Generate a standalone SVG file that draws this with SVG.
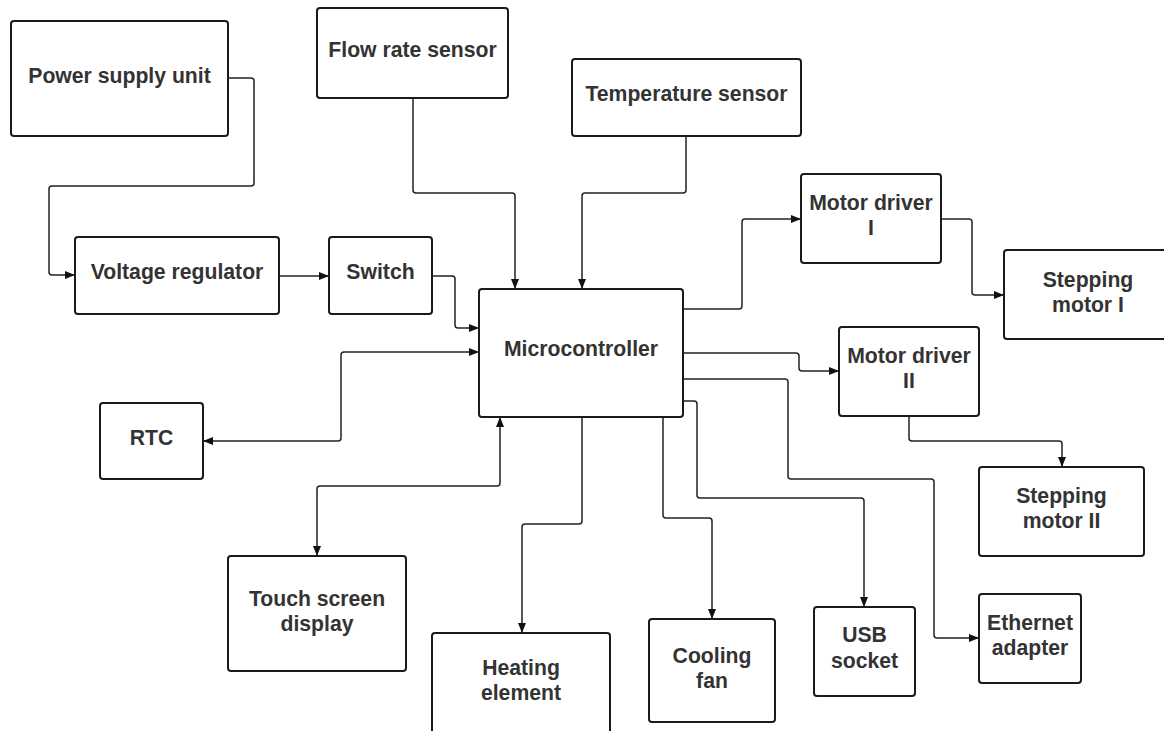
<svg xmlns="http://www.w3.org/2000/svg" width="1164" height="731" viewBox="0 0 1164 731">
<defs>
<marker id="arr" markerUnits="userSpaceOnUse" markerWidth="11" markerHeight="9" refX="10" refY="4" orient="auto-start-reverse">
<path d="M0,0 L10,4 L0,8 z" fill="#111"/>
</marker>
<style>
.box{fill:#fff;stroke:#1a1a1a;stroke-width:2}
.t{font-family:"Liberation Sans",Arial,sans-serif;font-weight:bold;font-size:21.2px;fill:#333;text-anchor:middle}
.c{fill:none;stroke:#222;stroke-width:1.5;stroke-linejoin:round}
.a{marker-end:url(#arr)}
.b{marker-start:url(#arr);marker-end:url(#arr)}
</style>
</defs>
<rect width="1164" height="731" fill="#fff"/>
<g id="connectors">
<path class="c a" d="M228,78 H251 Q254,78 254,81 V183 Q254,186 251,186 H52 Q49,186 49,189 V272 Q49,275 52,275 H75"/>
<path class="c a" d="M279,276 H329"/>
<path class="c a" d="M432,276 H452 Q455,276 455,279 V325 Q455,328 458,328 H479"/>
<path class="c a" d="M413,98 V190 Q413,193 416,193 H512 Q515,193 515,196 V289"/>
<path class="c a" d="M686,136 V190 Q686,193 683,193 H585 Q582,193 582,196 V289"/>
<path class="c b" d="M479,352 H344 Q341,352 341,355 V438 Q341,441 338,441 H203"/>
<path class="c b" d="M500,417 V483 Q500,486 497,486 H320 Q317,486 317,489 V556"/>
<path class="c a" d="M683,309 H739 Q742,309 742,306 V222 Q742,219 745,219 H801"/>
<path class="c a" d="M941,219 H969 Q972,219 972,222 V292 Q972,295 975,295 H1004"/>
<path class="c a" d="M683,353 H796 Q799,353 799,356 V368 Q799,371 802,371 H839"/>
<path class="c a" d="M909,416 V438 Q909,441 912,441 H1059 Q1062,441 1062,444 V467"/>
<path class="c a" d="M683,379 H785 Q788,379 788,382 V476 Q788,479 791,479 H931 Q934,479 934,482 V635 Q934,638 937,638 H979"/>
<path class="c a" d="M683,401 H694 Q697,401 697,404 V495 Q697,498 700,498 H861 Q864,498 864,501 V607"/>
<path class="c a" d="M582,417 V521 Q582,524 579,524 H525 Q522,524 522,527 V633"/>
<path class="c a" d="M663,417 V515 Q663,518 666,518 H709 Q712,518 712,521 V619"/>
</g>
<g id="psu"><rect class="box" x="11" y="21" width="217" height="115" rx="3"/><text class="t" x="119.5" y="83">Power supply unit</text></g>
<g id="voltage-regulator"><rect class="box" x="75" y="237" width="204" height="77" rx="3"/><text class="t" x="177" y="279">Voltage regulator</text></g>
<g id="flow-rate-sensor"><rect class="box" x="317" y="8" width="191" height="90" rx="3"/><text class="t" x="412.5" y="57">Flow rate sensor</text></g>
<g id="temperature-sensor"><rect class="box" x="572" y="59" width="229" height="77" rx="3"/><text class="t" x="686.5" y="101">Temperature sensor</text></g>
<g id="switch"><rect class="box" x="329" y="237" width="103" height="77" rx="3"/><text class="t" x="380.5" y="279">Switch</text></g>
<g id="microcontroller"><rect class="box" x="479" y="289" width="204" height="128" rx="3"/><text class="t" x="581" y="356">Microcontroller</text></g>
<g id="motor-driver-1"><rect class="box" x="801" y="174" width="140" height="89" rx="3"/><text class="t" x="871" y="210">Motor driver</text><text class="t" x="871" y="235">I</text></g>
<g id="stepping-motor-1"><rect class="box" x="1004" y="250" width="170" height="89" rx="3"/><text class="t" x="1088" y="287">Stepping</text><text class="t" x="1088" y="312">motor I</text></g>
<g id="motor-driver-2"><rect class="box" x="839" y="327" width="140" height="89" rx="3"/><text class="t" x="909" y="363">Motor driver</text><text class="t" x="909" y="388">II</text></g>
<g id="stepping-motor-2"><rect class="box" x="979" y="467" width="165" height="89" rx="3"/><text class="t" x="1061.5" y="503">Stepping</text><text class="t" x="1061.5" y="528">motor II</text></g>
<g id="rtc"><rect class="box" x="100" y="403" width="103" height="76" rx="3"/><text class="t" x="151.5" y="445">RTC</text></g>
<g id="touch-screen"><rect class="box" x="228" y="556" width="178" height="115" rx="3"/><text class="t" x="317" y="606">Touch screen</text><text class="t" x="317" y="631">display</text></g>
<g id="heating-element"><rect class="box" x="432" y="633" width="178" height="120" rx="3"/><text class="t" x="521" y="675">Heating</text><text class="t" x="521" y="700">element</text></g>
<g id="cooling-fan"><rect class="box" x="649" y="619" width="126" height="103" rx="3"/><text class="t" x="712" y="663">Cooling</text><text class="t" x="712" y="688">fan</text></g>
<g id="usb-socket"><rect class="box" x="814" y="607" width="101" height="89" rx="3"/><text class="t" x="864.5" y="642">USB</text><text class="t" x="864.5" y="668">socket</text></g>
<g id="ethernet-adapter"><rect class="box" x="979" y="594" width="102" height="89" rx="3"/><text class="t" x="1030" y="630">Ethernet</text><text class="t" x="1030" y="655">adapter</text></g>
</svg>
